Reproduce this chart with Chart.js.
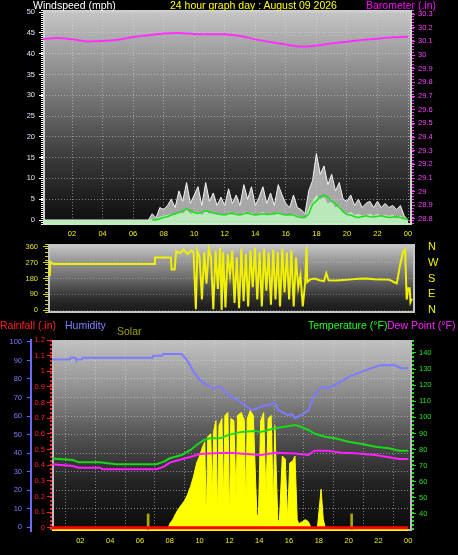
<!DOCTYPE html>
<html><head><meta charset="utf-8">
<script src="https://cdn.jsdelivr.net/npm/chart.js@4"></script>
<style>
html,body{margin:0;padding:0;background:#000;width:458px;height:555px;overflow:hidden;}
canvas{position:absolute;left:0;z-index:1;}
.t{position:absolute;z-index:2;font-family:"Liberation Sans",Arial,sans-serif;font-size:10.5px;line-height:11px;white-space:nowrap;}
</style></head><body>
<div class="t" style="left:33px;top:0px;color:#ffffff">Windspeed (mph)</div>
<div class="t" style="left:170px;top:0px;color:#ffff00">24 hour graph day : August 09 2026</div>
<div class="t" style="left:366px;top:0px;color:#ff00ff">Barometer (.in)</div>
<div class="t" style="left:0px;top:320px;color:#ff2020">Rainfall (.in)</div>
<div class="t" style="left:65px;top:320px;color:#8080ff">Humidity</div>
<div class="t" style="left:117px;top:326px;color:#a0a000">Solar</div>
<div class="t" style="left:308px;top:320px;color:#20ff20">Temperature (°F)</div>
<div class="t" style="left:387px;top:320px;color:#ff20ff">Dew Point (°F)</div>
<canvas id="c1" width="458" height="240" style="top:0px"></canvas>
<canvas id="c2" width="458" height="78" style="top:240px"></canvas>
<canvas id="c3" width="458" height="237" style="top:318px"></canvas>
<script>
// ---------- tick labels ----------
const hourTicks = [2,4,6,8,10,12,14,16,18,20,22,24];
const windTicks = [0,5,10,15,20,25,30,35,40,45,50];
const baroTicks = [28.8,28.9,29.0,29.1,29.2,29.3,29.4,29.5,29.6,29.7,29.8,29.9,30.0,30.1,30.2,30.3];
const dirTicks = [0,90,180,270,360];
const compassLabels = ['N','E','S','W','N'];
const humTicks = [0,10,20,30,40,50,60,70,80,90,100];
const rainTicks = [0,0.1,0.2,0.3,0.4,0.5,0.6,0.7,0.8,0.9,1.0,1.1,1.2];
const tempTicks = [40,50,60,70,80,90,100,110,120,130,140];

// ---------- barometer (inHg) ----------
const baroHours = [0,1,2,3,4,5,6,7,8,9,10,11,12,13,14,15,16,17,18,19,20,21,22,23,24];
const baroValues = [30.115,30.125,30.115,30.100,30.103,30.112,30.132,30.145,30.158,30.162,30.155,30.153,30.152,30.140,30.115,30.095,30.077,30.062,30.070,30.085,30.098,30.110,30.120,30.130,30.134];

// ---------- wind speed (mph) ----------
const windHours = [0,7,7.25,7.5,7.75,8,8.25,8.5,8.75,9,9.25,9.5,9.75,10,10.25,10.5,10.75,11,11.25,11.5,11.75,12,12.25,12.5,12.75,13,13.25,13.5,13.75,14,14.25,14.5,14.75,15,15.25,15.5,15.75,16,16.25,16.5,16.75,17,17.25,17.5,17.75,18,18.25,18.5,18.75,19,19.25,19.5,19.75,20,20.25,20.5,20.75,21,21.25,21.5,21.75,22,22.25,22.5,22.75,23,23.25,23.5,23.75,24];
const windGust = [0,0,1.5,0.5,3,2.5,3.5,5,3,7,4.5,9,4,6,8,3.5,9,4.5,6.5,3.5,5.5,3.5,7.5,4,6,3.5,8.5,5,8,3.5,5.5,8,4,6.5,3.5,8.5,6,4,3,6,3,2.5,1.5,7,9.5,16,11,13,8.5,11,7,9,5,4.5,6,3.5,5,3,4,4.5,3,4.5,3,4,3,3.5,2.5,3.5,1,0];
const windSpeed = [0,0,0.3,0.2,0.8,1,1.2,1.5,1.2,2,1.5,2.5,1.5,1.8,2,1.2,2.2,1.5,1.8,1.2,1.5,1.2,1.8,1.3,1.6,1.2,2,1.5,1.8,1.2,1.5,2,1.3,1.6,1.2,2,1.5,1.2,1,1.5,1,0.8,0.5,3,4.5,6,5,5.5,4,4.5,3,3.5,2,1.5,2,1.2,1.5,1,1.2,1.5,1,1.5,1,1.2,1,1.2,0.8,1,0.4,0];
const windAvg = [null,null,0,0,0.3,0.6,0.8,1.2,1.5,1.8,2.2,2.7,2.3,1.8,1.6,1.9,2.2,2,1.7,1.5,1.3,1.2,1.5,1.6,1.3,1.2,1.5,1.7,1.4,1.2,1.3,1.5,1.3,1.4,1.5,1.7,1.4,1.2,1.3,1.2,0.8,0.6,0.6,1.5,3.8,4.6,5.6,6,5.5,4.4,4,3,2,1.3,1.2,0.8,0.6,0.8,1,0.8,0.7,0.9,1,0.8,0.6,0.7,0.8,0.6,0.3,0.1];

// ---------- wind direction (deg) ----------
const dirHours = [0,0.12,0.15,0.35,7.0,7.05,8.1,8.15,8.35,8.45,8.7,8.95,9.2,9.45,9.6,9.75,9.85,10.0,10.15,10.3,10.45,10.6,10.75,10.9,11.05,11.2,11.35,11.45,11.55,11.7,11.85,12.0,12.15,12.3,12.45,12.6,12.75,12.9,13.05,13.2,13.35,13.5,13.65,13.8,13.95,14.1,14.25,14.4,14.55,14.7,14.85,15.0,15.15,15.3,15.45,15.6,15.75,15.9,16.05,16.2,16.35,16.5,16.65,16.8,16.95,17.05,17.1,17.3,17.6,17.9,18.2,18.35,18.5,19.0,19.5,20.0,20.5,21.0,21.5,22.0,22.5,22.8,23.0,23.2,23.4,23.55,23.65,23.75,23.85,23.9,24.0];
const dirValues = [200,200,276,263,263,300,300,232,232,335,325,345,320,340,330,5,340,300,60,330,150,350,300,5,340,120,355,0,330,15,320,200,340,40,300,10,350,50,320,20,340,130,355,60,330,20,350,110,330,30,345,60,330,20,350,100,330,60,340,20,300,130,200,20,150,360,160,175,180,170,165,210,170,168,172,175,178,180,176,175,173,160,152,250,330,345,60,125,125,45,65];

// ---------- humidity (%) ----------
const humHours = [0,1.3,1.35,1.65,1.7,2.1,2.15,6.85,6.9,7.5,7.55,8.8,9.15,9.6,10.0,10.5,10.9,11.4,11.8,12.1,12.5,12.8,13.1,13.5,13.8,14.1,14.6,15.05,15.3,15.6,15.9,16.2,16.4,16.8,17.3,17.7,18.2,18.6,19.3,20.0,20.9,21.8,22.2,23.1,23.5,24];
const humValues = [90.6,90.6,91.5,91.5,90.6,90.6,91.5,91.5,92.6,92.6,93.5,93.5,90.3,84,79.5,76.8,75,75.8,72.3,70.4,69,67,65.5,63.2,64,65,66,67,63,62,60.5,61,58.8,60.5,63,71.4,75.8,75,77.7,81.2,84,86.6,87.6,87.4,85.8,85.8];

// ---------- temperature / dew point (F) ----------
const tempHours = [0,1.5,1.9,3.3,4.4,7.1,7.6,8.0,8.8,9.4,9.8,10.3,10.7,11.4,11.9,12.8,13.7,14.1,15.05,16.4,16.7,17.3,17.7,18.4,19.1,20.0,20.9,21.8,22.7,23.4,24];
const tempValues = [74.6,73.5,72.1,72.1,70.9,70.9,72.5,74.6,76.6,79.8,82.9,86,87,87,89,91,91.5,91,93.2,95.3,94.5,92.2,90,88,87,84.9,83.5,81.8,80.8,79.3,79.3];
const dewHours = [0,1.5,1.9,3.3,3.5,7.1,7.6,8.0,8.8,9.6,10.0,10.9,12.0,13.2,14.1,15.05,16.4,17.3,17.7,18.6,19.5,20.4,21.8,22.7,23.4,24];
const dewValues = [70.9,69.8,68.8,68.8,67.8,67.8,69.4,71.9,74,76,77.3,77.8,78.1,77.3,76.6,78,77.5,76.6,79.3,79.3,78.1,77.8,76.6,75.2,74.2,74.2];

// ---------- rainfall (in) ----------
const rainHours = [0,24];
const rainValues = [0,0];

// ---------- solar (W/m2) ----------
const solarHours = [0,7.85,8.0,8.2,8.4,8.6,8.8,9.0,9.2,9.4,9.6,9.8,10.0,10.2,10.35,10.45,10.55,10.75,10.85,10.95,11.1,11.2,11.3,11.5,11.6,11.7,11.9,12.0,12.1,12.3,12.45,12.55,12.8,13.0,13.1,13.2,13.4,13.6,13.85,13.95,14.1,14.3,14.45,14.6,14.8,14.95,15.05,15.25,15.35,15.55,15.75,15.9,16.05,16.25,16.4,16.55,16.65,16.9,17.1,17.3,17.5,17.9,18.15,18.3,18.45,18.6,24];
const solarValues = [0,0,38,64,102,134,160,185,224,275,339,422,466,524,556,51,588,607,211,626,690,83,658,703,179,722,741,51,703,690,198,722,741,690,147,703,754,722,83,102,690,741,211,703,722,147,658,64,51,466,447,64,422,435,466,64,38,51,64,51,6,6,256,64,6,0,0];
const solarMarkHours = [6.55,20.2];
const solarMarkValues = [100,100];

// ---------- helpers ----------
const FAM = '"Liberation Sans", Arial, sans-serif';
const pts = (xs, ys) => xs.map((x, i) => ({x: x, y: ys[i]}));
const fixTicks = arr => s => { s.ticks = arr.map(v => ({value: v})); };
const hourLabel = v => (v === 0 ? '' : String(v % 24).padStart(2, '0'));
const dec1 = v => String(Math.round(v * 10) / 10);
const fitW = w => s => { s.width = w; s.paddingTop = 0; s.paddingBottom = 0; };
const fitH = h => s => { s.height = h; s.paddingLeft = 0; s.paddingRight = 0; };

const plotBg = {
  id: 'plotBg',
  beforeDraw(chart, args, opts) {
    const ctx = chart.ctx, a = chart.chartArea;
    if (!opts || !opts.stops) return;
    const g = ctx.createLinearGradient(0, a.top, 0, a.bottom);
    opts.stops.forEach(s => g.addColorStop(s[0], s[1]));
    ctx.save();
    ctx.fillStyle = g;
    ctx.fillRect(a.left, a.top, a.right - a.left, a.bottom - a.top);
    if (opts.frame) {
      ctx.strokeStyle = opts.frame; ctx.lineWidth = 2;
      ctx.strokeRect(a.left + 1, a.top + 1, a.right - a.left - 2, a.bottom - a.top - 2);
    }
    ctx.restore();
  }
};
const axisRuler = {
  id: 'axisRuler',
  afterDraw(chart, args, opts) {
    const ctx = chart.ctx, a = chart.chartArea;
    ((opts && opts.list) || []).forEach(r => {
      const s = chart.scales[r.scale];
      const x = r.side === 'left' ? s.right - r.width / 2 : s.left + r.width / 2;
      ctx.save();
      ctx.strokeStyle = r.color; ctx.lineWidth = r.width; ctx.setLineDash(r.dash || []);
      ctx.beginPath(); ctx.moveTo(x, a.top); ctx.lineTo(x, a.bottom); ctx.stroke();
      ctx.restore();
    });
  }
};
Chart.register(plotBg, axisRuler);

const base = {
  responsive: false, animation: false, events: [],
  elements: {point: {radius: 0}, line: {tension: 0}},
};
const gridCol = 'rgba(225,225,225,0.5)';

// ================= PANEL 1 : wind + barometer =================
new Chart(document.getElementById('c1'), {
  type: 'line',
  data: {datasets: [
    {data: pts(baroHours, baroValues), yAxisID: 'yb', borderColor: '#ff30ff', borderWidth: 2, tension: 0.3, pointRadius: 0, order: 0},
    {data: pts(windHours, windAvg), yAxisID: 'y', borderColor: '#18e018', borderWidth: 1.5, pointRadius: 0, order: 1},
    {data: pts(windHours, windSpeed), yAxisID: 'y', borderColor: 'rgba(0,0,0,0)', borderWidth: 0, backgroundColor: 'rgba(190,240,190,0.9)', fill: 'start', pointRadius: 0, order: 2},
    {data: pts(windHours, windGust), yAxisID: 'y', borderColor: '#f4f4f4', borderWidth: 1, backgroundColor: 'rgba(222,222,222,0.72)', fill: 'start', pointRadius: 0, order: 3}
  ]},
  options: Object.assign({}, base, {
    layout: {padding: {top: 10, bottom: 0, left: 0, right: 0}},
    plugins: {
      legend: {display: false}, tooltip: {enabled: false},
      plotBg: {stops: [[0, '#c6c6c6'], [0.15, '#a8a8a8'], [0.45, '#6c6c6c'], [0.7, '#383838'], [0.9, '#1a1a1a'], [1, '#0e0e0e']], frame: '#cfcfcf'},
      axisRuler: {list: [
        {scale: 'y', side: 'left', color: '#ffffff', width: 2, dash: [1, 1]},
        {scale: 'yb', side: 'right', color: '#ff40ff', width: 2, dash: [1, 2]}
      ]}
    },
    scales: {
      x: {type: 'linear', min: 0.1, max: 24.26, offset: false,
        afterFit: fitH(15), afterBuildTicks: fixTicks(hourTicks),
        ticks: {color: '#f0f000', font: {size: 7.5, family: FAM}, padding: 4, autoSkip: false, maxRotation: 0, callback: hourLabel},
        grid: {color: gridCol, drawTicks: false}, border: {display: false, dash: [1, 2]}},
      y: {type: 'linear', position: 'left', min: -1.2, max: 50.5,
        afterFit: fitW(43), afterBuildTicks: fixTicks(windTicks),
        ticks: {color: '#dde6ff', font: {size: 7.5, family: FAM}, padding: 4, autoSkip: false},
        grid: {color: gridCol, tickColor: '#ffffff', tickLength: 4}, border: {display: false, dash: [1, 2]}},
      yb: {type: 'linear', position: 'right', min: 28.756, max: 30.33,
        afterFit: fitW(46), afterBuildTicks: fixTicks(baroTicks),
        ticks: {color: '#ff40ff', font: {size: 7.5, family: FAM}, padding: 3, autoSkip: false, callback: dec1},
        grid: {drawOnChartArea: false, tickColor: '#ff40ff', tickLength: 3}, border: {display: false}}
    }
  })
});

// ================= PANEL 2 : wind direction =================
new Chart(document.getElementById('c2'), {
  type: 'line',
  data: {datasets: [
    {data: pts(dirHours, dirValues), yAxisID: 'y', borderColor: '#f0f000', borderWidth: 2, pointRadius: 0}
  ]},
  options: Object.assign({}, base, {
    layout: {padding: {top: 4, bottom: 5, left: 0, right: 0}},
    plugins: {
      legend: {display: false}, tooltip: {enabled: false},
      plotBg: {stops: [[0, '#cacaca'], [0.2, '#a0a0a0'], [0.5, '#6a6a6a'], [0.8, '#2c2c2c'], [1, '#161616']], frame: '#c4c4c4'},
      axisRuler: {list: [{scale: 'y', side: 'left', color: '#d8d800', width: 3, dash: [1, 3]}]}
    },
    scales: {
      x: {type: 'linear', display: false, min: 0, max: 24.2, offset: false},
      y: {type: 'linear', position: 'left', min: -17, max: 377,
        afterFit: fitW(48), afterBuildTicks: fixTicks(dirTicks),
        ticks: {color: '#e0e030', font: {size: 7.5, family: FAM}, padding: 5, autoSkip: false},
        grid: {color: 'rgba(225,225,225,0.35)', tickColor: '#d8d800', tickLength: 5}, border: {display: false, dash: [1, 2]}},
      yc: {type: 'linear', position: 'right', min: -17, max: 377,
        afterFit: fitW(43), afterBuildTicks: fixTicks(dirTicks),
        ticks: {color: '#f0f000', font: {size: 11, family: FAM}, padding: 13, autoSkip: false, callback: (v) => compassLabels[dirTicks.indexOf(v)]},
        grid: {drawOnChartArea: false, drawTicks: false}, border: {display: false}}
    }
  })
});

// ================= PANEL 3 : rain / humidity / solar / temp / dew =================
new Chart(document.getElementById('c3'), {
  type: 'line',
  data: {datasets: [
    {data: pts(rainHours, rainValues), yAxisID: 'yr', borderColor: '#ff0000', borderWidth: 3, pointRadius: 0, order: 0},
    {data: pts(dewHours, dewValues), yAxisID: 'yt', borderColor: '#ff20ff', borderWidth: 2, pointRadius: 0, order: 1},
    {data: pts(tempHours, tempValues), yAxisID: 'yt', borderColor: '#18d818', borderWidth: 2, pointRadius: 0, order: 2},
    {data: pts(humHours, humValues), yAxisID: 'yh', borderColor: '#7c7cff', borderWidth: 2, pointRadius: 0, order: 3},
    {type: 'bar', data: pts(solarMarkHours, solarMarkValues), yAxisID: 'ys', backgroundColor: '#a8a800', barThickness: 2, order: 9},
    {data: pts(solarHours, solarValues), yAxisID: 'ys', borderColor: '#ffff00', borderWidth: 1, backgroundColor: '#ffff00', fill: 'start', pointRadius: 0, order: 10}
  ]},
  options: Object.assign({}, base, {
    layout: {padding: {top: 22, bottom: 0, left: 0, right: 0}},
    plugins: {
      legend: {display: false}, tooltip: {enabled: false},
      plotBg: {stops: [[0, '#c2c2c2'], [0.25, '#929292'], [0.5, '#535353'], [0.75, '#222222'], [1, '#0a0a0a']], frame: '#bcbcbc'},
      axisRuler: {list: [
        {scale: 'yr', side: 'left', color: '#ff2020', width: 2, dash: [2, 2]},
        {scale: 'yt', side: 'right', color: '#20e020', width: 2, dash: [2, 2]}
      ]}
    },
    scales: {
      x: {type: 'linear', min: 0.1, max: 24.25, offset: false,
        afterFit: fitH(24), afterBuildTicks: fixTicks(hourTicks),
        ticks: {color: '#f0f000', font: {size: 7.5, family: FAM}, padding: 5, autoSkip: false, maxRotation: 0, callback: hourLabel},
        grid: {color: gridCol, drawTicks: false}, border: {display: false, dash: [1, 2]}},
      yh: {type: 'linear', position: 'left', weight: 2, min: -2.16, max: 101.08,
        afterFit: fitW(31), afterBuildTicks: fixTicks(humTicks),
        ticks: {color: '#7c7cff', font: {size: 7.5, family: FAM}, padding: 5, autoSkip: false},
        grid: {color: gridCol, tickColor: '#6a6aff', tickLength: 4}, border: {display: true, color: '#6a6aff', width: 2, dash: [1, 2]}},
      yr: {type: 'linear', position: 'left', weight: 1, min: -0.02, max: 1.2,
        afterFit: fitW(21), afterBuildTicks: fixTicks(rainTicks),
        ticks: {color: '#ff2020', font: {size: 7.5, family: FAM}, padding: 2, autoSkip: false, callback: dec1},
        grid: {drawOnChartArea: false, tickColor: '#ff2020', tickLength: 5}, border: {display: false}},
      yt: {type: 'linear', position: 'right', min: 29.44, max: 148.07,
        afterFit: fitW(46), afterBuildTicks: fixTicks(tempTicks),
        ticks: {color: '#20e020', font: {size: 7.5, family: FAM}, padding: 3, autoSkip: false},
        grid: {drawOnChartArea: false, tickColor: '#20e020', tickLength: 4}, border: {display: false}},
      ys: {type: 'linear', display: false, min: -8, max: 1200}
    }
  })
});
</script>
</body></html>
